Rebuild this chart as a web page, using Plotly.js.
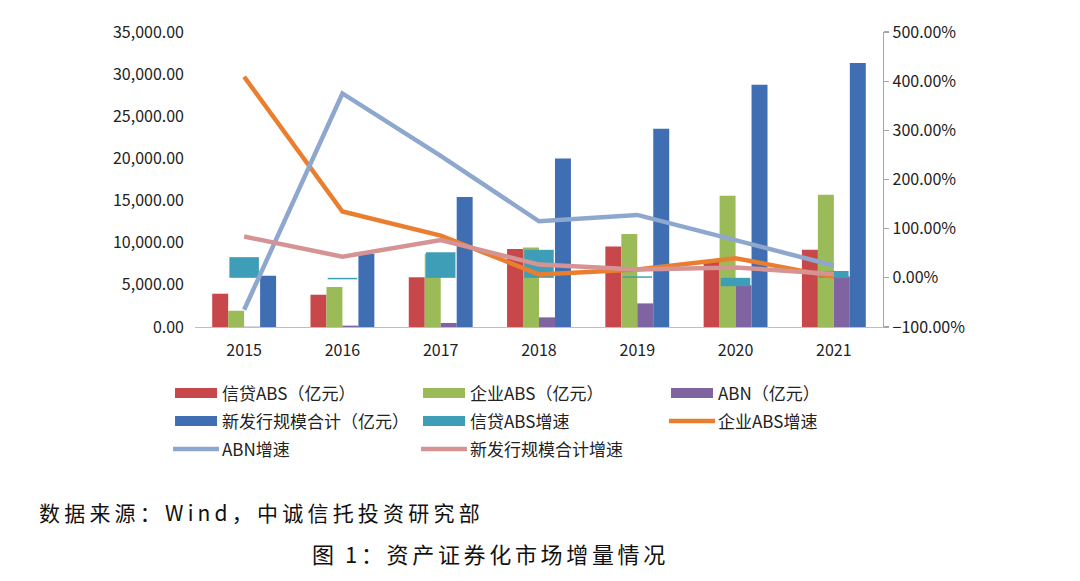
<!DOCTYPE html>
<html><head><meta charset="utf-8">
<script src="https://cdn.plot.ly/plotly-3.0.1.min.js"></script>
<style>html,body{margin:0;padding:0;background:#fff;} #chart{width:1080px;height:581px;}</style>
</head><body><div id="chart"></div>
<script>
// ---- data ----
const years = ['2015', '2016', '2017', '2018', '2019', '2020', '2021'];
const xindaiABS = [3950, 3830, 5900, 9250, 9560, 7900, 9170];      // 信贷ABS（亿元）
const qiyeABS   = [1930, 4745, 8700, 9440, 11030, 15570, 15690];   // 企业ABS（亿元）
const abnVals   = [35, 160, 480, 1140, 2800, 4950, 6000];          // ABN（亿元）
const totalVals = [6085, 8660, 15420, 20000, 23520, 28740, 31320]; // 新发行规模合计（亿元）
const xindaiGrowth = [42, -3, 52, 57, 3, -17, 14];                 // 信贷ABS增速 (%)
const qiyeGrowth   = [409, 135, 86, 7, 17, 40, 2];                 // 企业ABS增速 (%)
const abnGrowth    = [-65, 375, 248, 115, 128, 77, 25];            // ABN增速 (%)
const totalGrowth  = [84, 43, 77, 27, 17, 21, 8];                  // 新发行规模合计增速 (%)

const FONT = '"Noto Sans CJK SC", "Noto Sans", sans-serif';
const W = 0.1625;

const traces = [
  {type:'bar', name:'信贷ABS（亿元）', x:years, y:xindaiABS, marker:{color:'#C8474A'}, width:W, offset:-2*W},
  {type:'bar', name:'企业ABS（亿元）', x:years, y:qiyeABS, marker:{color:'#9BBB59'}, width:W, offset:-W},
  {type:'bar', name:'ABN（亿元）', x:years, y:abnVals, marker:{color:'#8064A2'}, width:W, offset:0},
  {type:'bar', name:'新发行规模合计（亿元）', x:years, y:totalVals, marker:{color:'#3F6EB3'}, width:W, offset:W},
  {type:'bar', name:'信贷ABS增速', x:years, y:xindaiGrowth, yaxis:'y2', marker:{color:'#3E9DB7'}, width:0.3, offset:-0.15},
  {type:'scatter', mode:'lines', name:'企业ABS增速', x:years, y:qiyeGrowth, yaxis:'y2', line:{color:'#E97F2E', width:4.5}},
  {type:'scatter', mode:'lines', name:'ABN增速', x:years, y:abnGrowth, yaxis:'y2', line:{color:'#8EA7CE', width:4.5}},
  {type:'scatter', mode:'lines', name:'新发行规模合计增速', x:years, y:totalGrowth, yaxis:'y2', line:{color:'#D69394', width:4.5}}
];

function spaced(s, sep){ return Array.from(s).join(sep); }

const layout = {
  width:1080, height:581,
  margin:{l:195, r:197, t:32, b:254, pad:0},
  paper_bgcolor:'#fff', plot_bgcolor:'#fff',
  barmode:'overlay',
  showlegend:true,
  font:{family:FONT, size:16, color:'#222'},
  xaxis:{type:'category', showline:true, linecolor:'#BFBFBF', linewidth:1.3, ticks:'', showgrid:false, zeroline:false,
         tickfont:{family:FONT, size:16, color:'#222'}, ticklabelstandoff:8},
  yaxis:{range:[0,35000], tick0:0, dtick:5000, tickformat:',.2f', showgrid:false, zeroline:false, showline:false, ticks:'',
         tickfont:{family:FONT, size:16, color:'#222'}, ticklabelstandoff:10},
  yaxis2:{overlaying:'y', side:'right', range:[-100,500], tick0:0, dtick:100, tickformat:'.2f', ticksuffix:'%',
          showgrid:false, zeroline:false, showline:true, linecolor:'#A6A6A6', linewidth:1.3,
          ticks:'outside', ticklen:5, tickcolor:'#A6A6A6', tickwidth:1.3,
          tickfont:{family:FONT, size:16, color:'#222'}},
  legend:{orientation:'h', x:-0.0363, xanchor:'left', y:-0.164, yanchor:'top', itemwidth:42, entrywidth:191,
          font:{family:FONT, size:17, color:'#222'}, traceorder:'normal', bgcolor:'rgba(0,0,0,0)', borderwidth:0},
  annotations:[
    {xref:'paper', yref:'paper', x:-0.2297, y:-0.628, xanchor:'left', yanchor:'middle', showarrow:false,
     text:spaced('数据来源：Wind，中诚信托投资研究部', '\u2009'), font:{family:FONT, size:21, color:'#111'}},
    {xref:'paper', yref:'paper', x:0.1672, y:-0.766, xanchor:'left', yanchor:'middle', showarrow:false,
     text:spaced('图1：资产证券化市场增量情况', '\u2006').replace('图', '图\u2004'), font:{family:FONT, size:22, color:'#111'}}
  ]
};

Plotly.newPlot('chart', traces, layout, {staticPlot:true, displayModeBar:false}).then(function(gd){
  const items = Array.from(gd.querySelectorAll('.legend .traces'));
  const pos = items.map(function(it){
    const m = /translate\(\s*([-\d.e]+)[ ,]+([-\d.e]+)\s*\)/.exec(it.getAttribute('transform') || '');
    return m ? [parseFloat(m[1]), parseFloat(m[2])] : [0,0];
  });
  const rows = Array.from(new Set(pos.map(function(p){return Math.round(p[1]*10)/10;}))).sort(function(a,b){return a-b;});
  items.forEach(function(it, i){
    const r = rows.indexOf(Math.round(pos[i][1]*10)/10);
    it.setAttribute('transform', 'translate(' + pos[i][0] + ',' + (rows[0] + r*28) + ')');
    it.querySelectorAll('.legendpoints path').forEach(function(p){
      p.removeAttribute('transform');
      p.setAttribute('d', 'M5,-5h42v10h-42Z');
    });
    it.querySelectorAll('.legendlines path').forEach(function(p){
      p.setAttribute('d', 'M3,0h46');
    });
  });
});
</script>
</body></html>
